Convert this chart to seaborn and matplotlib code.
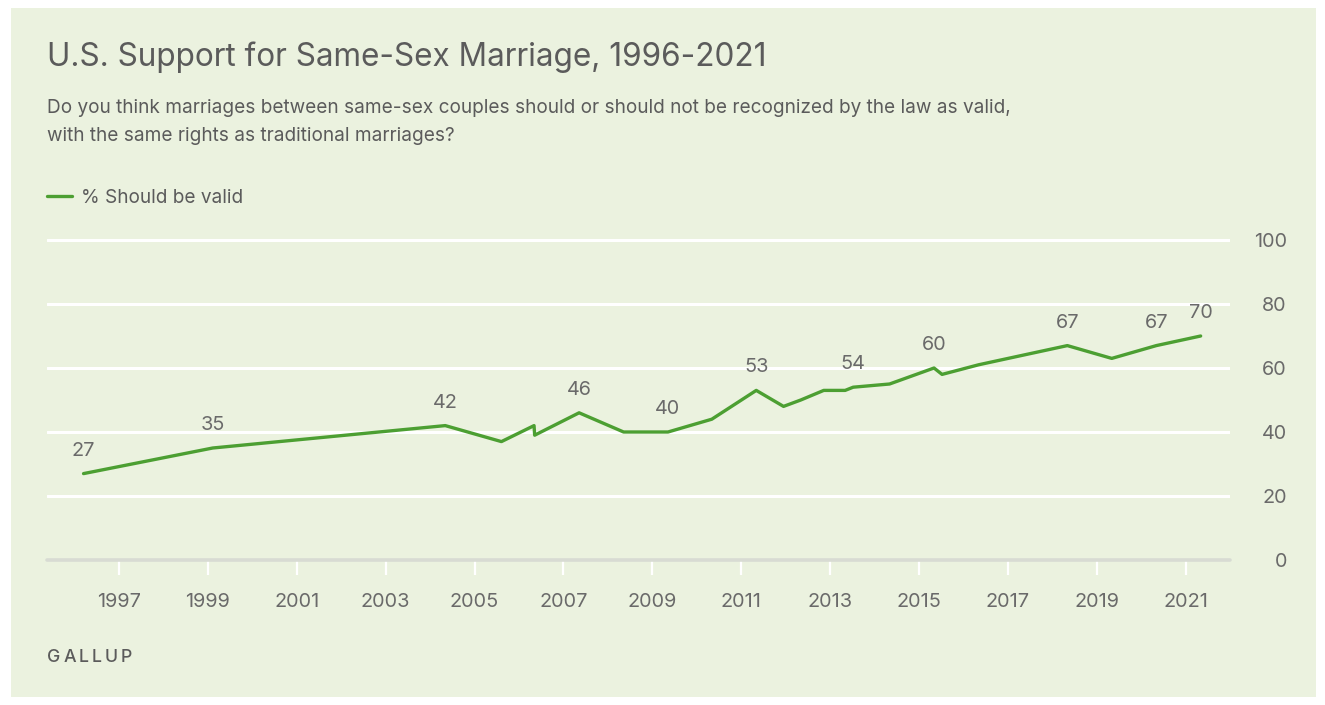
import numpy as np
import pandas as pd
import matplotlib
matplotlib.use("Agg")
import matplotlib.pyplot as plt
import seaborn as sns
from matplotlib.patches import Rectangle

# ---------------- data ----------------
survey_dates = ["1996-03-15", "1999-02-10", "2004-05-05", "2005-08-10", "2006-05-05",
                "2006-05-10", "2007-05-10", "2008-05-10", "2009-05-10", "2010-05-05",
                "2011-05-05", "2011-12-15", "2012-05-05", "2012-11-10", "2013-05-05",
                "2013-07-10", "2014-05-05", "2015-05-05", "2015-07-10", "2016-05-05",
                "2017-05-05", "2018-05-05", "2019-05-05", "2020-05-05", "2021-05-05"]
support_pct = [27, 35, 42, 37, 42, 39, 46, 40, 40, 44, 53, 48, 50, 53, 53, 54, 55,
               60, 58, 61, 64, 67, 63, 67, 70]
labeled_dates = ["1996-03-15", "1999-02-10", "2004-05-05", "2007-05-10", "2009-05-10",
                 "2011-05-05", "2013-07-10", "2015-05-05", "2018-05-05", "2020-05-05",
                 "2021-05-05"]
x_tick_years = list(range(1997, 2022, 2))
y_ticks = [0, 20, 40, 60, 80, 100]
series_name = "% Should be valid"
title = "U.S. Support for Same-Sex Marriage, 1996-2021"
subtitle_1 = "Do you think marriages between same-sex couples should or should not be recognized by the law as valid,"
subtitle_2 = "with the same rights as traditional marriages?"
source = "GALLUP"

# ---------------- styling ----------------
W, H = 1325, 705
BG = "#EBF2DF"
GREEN = "#4C9F32"
TXT = "#5b5b5b"
LBL = "#6a6a6a"
TICK_FS = 14.3

sns.set_theme(style="white")
plt.rcParams['font.family'] = ['Inter', 'DejaVu Sans']

dt = pd.to_datetime(pd.Series(survey_dates))
dec_year = dt.dt.year + (dt.dt.dayofyear - 1) / (365 + dt.dt.is_leap_year.astype(int))
df = pd.DataFrame({"date": survey_dates, "year": dec_year, "pct": support_pct})

fig = plt.figure(figsize=(W / 100, H / 100), dpi=100)
fig.patch.set_facecolor("white")
fig.add_artist(Rectangle((11 / W, 8 / H), (1316 - 11) / W, (697 - 8) / H,
                         transform=fig.transFigure, facecolor=BG, edgecolor="none", zorder=-10))

px_per_unit = 3.2
ytop = 102.5
ax = fig.add_axes([47 / W, (H - 560) / H, (1230 - 47) / W, ytop * px_per_unit / H])
ax.set_facecolor("none")

for y in y_ticks[1:]:
    ax.axhline(y, color="white", lw=2.2, zorder=0)
ax.axhline(0, color="#d8dbd3", lw=2.6, zorder=1, clip_on=False)

sns.lineplot(data=df, x="year", y="pct", ax=ax, color=GREEN, linewidth=2.4,
             sort=False, estimator=None, label=series_name, zorder=3)

ax.set_xlim(1995.38, 2022.0)
ax.set_ylim(0, ytop)
for s in ax.spines.values():
    s.set_visible(False)

ax.set_xticks(x_tick_years)
ax.set_xticklabels([str(y) for y in x_tick_years])
ax.tick_params(axis="x", length=11, width=1.6, color="white", pad=12.5,
               labelsize=TICK_FS, labelcolor=LBL, bottom=True)
ax.yaxis.tick_right()
ax.set_yticks(y_ticks)
ax.set_yticklabels([str(y) for y in y_ticks])
ax.tick_params(axis="y", length=0, pad=41, labelsize=TICK_FS, labelcolor=LBL, right=True)
for lab in ax.get_yticklabels():
    lab.set_horizontalalignment("right")
ax.set_xlabel("")
ax.set_ylabel("")

for d in labeled_dates:
    row = df[df["date"] == d].iloc[0]
    ax.annotate(str(row["pct"]), (row["year"], row["pct"]), xytext=(0, 16.5),
                textcoords="offset points", ha="center", va="center",
                fontsize=TICK_FS, color=LBL)

leg = ax.legend(loc="center left", bbox_to_anchor=(47 / W, 1 - 198 / H),
                bbox_transform=fig.transFigure, frameon=False, handlelength=1.3,
                handletextpad=0.5, borderpad=0, borderaxespad=0, fontsize=13.7)
for t in leg.get_texts():
    t.set_color(TXT)

fig.text(47 / W, 1 - 57 / H, title, fontsize=22.7, color=TXT, va="center", ha="left")
fig.text(47 / W, 1 - 108 / H, subtitle_1, fontsize=13.7, color=TXT, va="center", ha="left")
fig.text(47 / W, 1 - 136 / H, subtitle_2, fontsize=13.7, color=TXT, va="center", ha="left")

# letter-spaced source mark
renderer = fig.canvas.get_renderer()
xg = 47.0
for ch in source:
    t = fig.text(xg / W, 1 - 657 / H, ch, fontsize=12.8, color=TXT, va="center",
                 ha="left", fontweight="medium")
    bb = t.get_window_extent(renderer=renderer)
    xg += bb.width + 3.0

fig.savefig("out.png", dpi=100, facecolor="white")
